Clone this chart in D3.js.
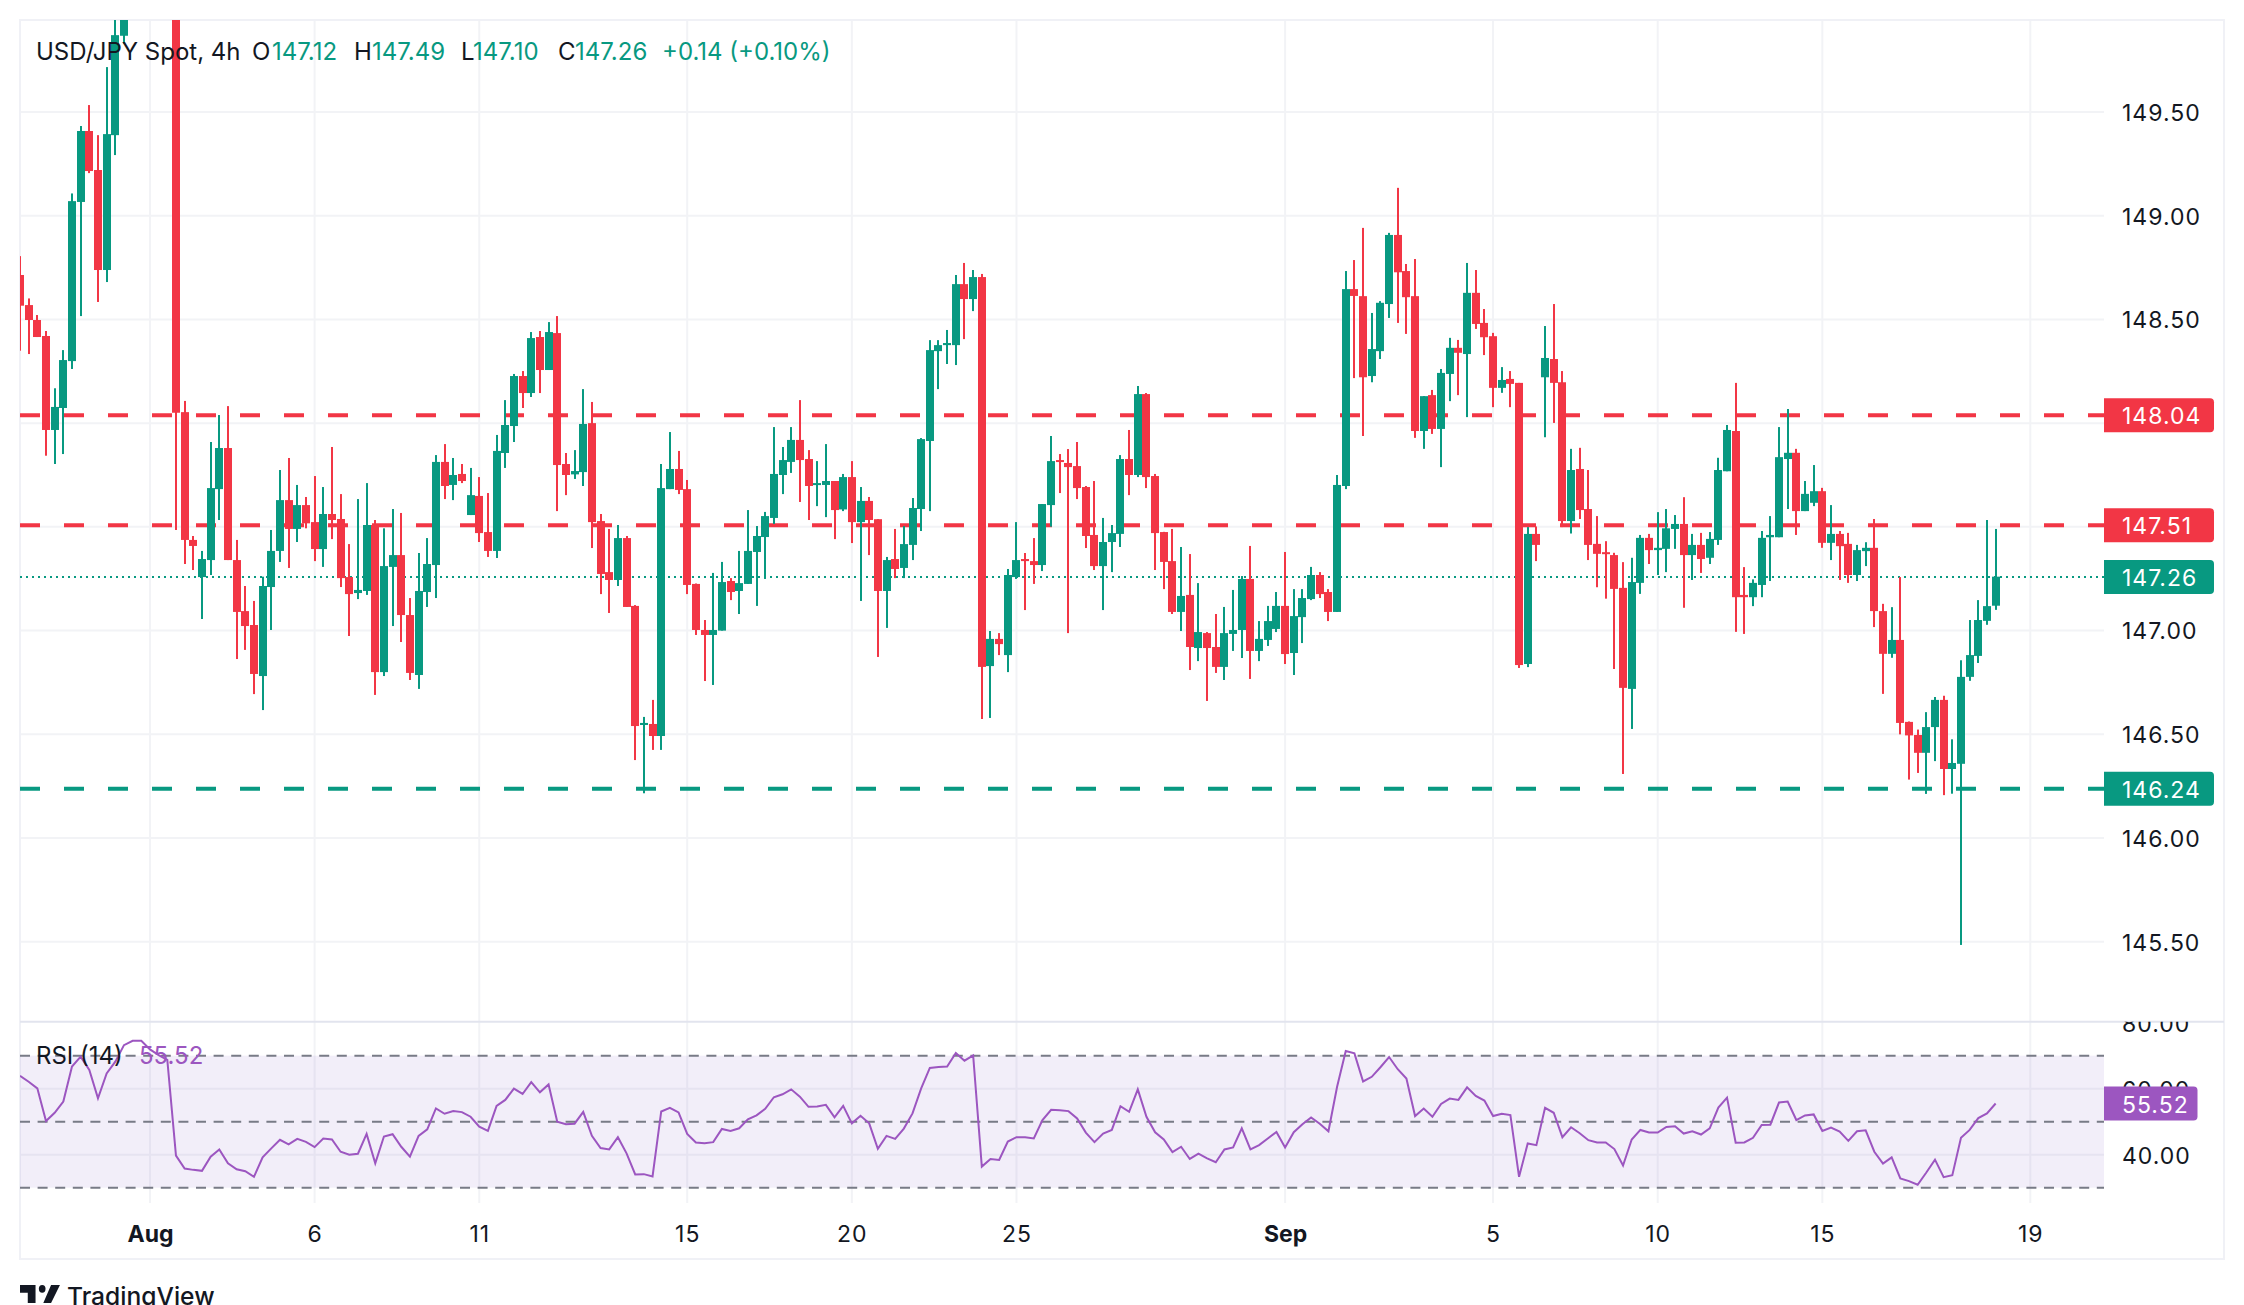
<!DOCTYPE html>
<html>
<head>
<meta charset="utf-8">
<title>USD/JPY Spot, 4h</title>
<script src="https://cdn.jsdelivr.net/npm/d3@7/dist/d3.min.js"></script>
<style>
	html, body { margin: 0; padding: 0; background: #fff; }
	svg { display: block; font-family: Inter, "Noto Sans", sans-serif; }
	.tick line, .domain { display: none; }
</style>
</head>
<body>
<div id="vis"></div>
<script>
'use strict';

var opens = [
	148.714,148.569,148.497,148.42,147.967,148.073,148.299,149.066,149.408,149.22,
	148.738,149.388,149.867,150.25,150.45,150.65,150.7,150.55,150.4,148.053,
	147.437,147.258,147.34,147.682,147.88,147.34,147.094,147.027,146.781,147.21,
	147.384,147.629,147.49,147.605,147.523,147.393,147.562,147.538,147.258,147.181,
	147.191,147.509,146.8,147.307,147.364,147.075,146.786,147.186,147.316,147.813,
	147.702,147.755,147.557,147.649,147.475,147.384,147.856,147.986,148.227,148.145,
	148.415,148.256,148.434,147.803,147.753,147.764,148.0,147.528,147.282,147.244,
	147.446,147.119,146.545,146.55,146.492,147.682,147.779,147.682,147.225,147.003,
	146.979,147.0,147.239,147.191,147.225,147.379,147.451,147.543,147.75,147.813,
	147.919,147.827,147.702,147.702,147.721,147.584,147.74,147.523,147.625,147.537,
	147.191,147.345,147.302,147.413,147.586,147.914,148.347,148.376,148.376,148.67,
	148.598,148.704,146.829,146.96,146.882,147.258,147.345,147.335,147.316,147.605,
	147.822,147.808,147.793,147.692,147.461,147.311,147.427,147.466,147.827,147.75,
	148.14,147.745,147.475,147.335,147.09,147.172,146.916,146.988,146.921,146.825,
	146.984,147.003,147.249,146.902,146.955,147.008,147.119,146.892,147.065,147.152,
	147.268,147.186,147.09,147.697,148.646,148.612,148.227,148.347,148.574,148.907,
	148.733,148.612,147.962,148.135,147.972,148.237,148.363,148.333,148.628,148.483,
	148.419,148.17,148.213,148.194,146.839,147.466,148.221,148.309,148.197,147.528,
	147.779,147.586,147.418,147.378,147.364,147.206,146.719,147.23,147.447,147.388,
	147.394,147.49,147.514,147.364,147.413,147.351,147.437,147.768,147.962,147.172,
	147.161,147.22,147.45,147.45,147.827,147.857,147.576,147.616,147.672,147.423,
	147.466,147.418,147.268,147.383,147.399,147.094,146.888,146.955,146.56,146.497,
	146.411,146.535,146.666,146.333,146.358,146.777,146.878,147.047,147.12
];
var highs = [
	148.805,148.601,148.521,148.444,148.168,148.352,149.107,149.432,149.533,149.388,
	149.716,150.05,150.3,150.55,150.75,150.92,150.8,150.7,150.5,148.107,
	147.456,147.384,147.909,148.039,148.082,147.437,147.215,147.143,147.26,147.485,
	147.774,147.832,147.702,147.644,147.745,147.692,147.885,147.658,147.417,147.634,
	147.711,147.533,147.493,147.586,147.567,147.157,147.374,147.446,147.846,147.899,
	147.832,147.803,147.784,147.74,147.663,147.943,148.111,148.237,148.251,148.439,
	148.444,148.487,148.516,147.856,147.87,148.164,148.102,147.562,147.49,147.509,
	147.456,147.123,146.584,146.666,147.803,147.957,147.866,147.726,147.227,147.051,
	147.278,147.331,147.253,147.384,147.581,147.504,147.572,147.981,147.885,147.981,
	148.111,147.87,147.817,147.899,147.721,147.755,147.817,147.692,147.644,147.537,
	147.355,147.49,147.504,147.639,147.928,148.4,148.4,148.449,148.714,148.772,
	148.738,148.719,146.998,146.988,147.297,147.523,147.374,147.446,147.61,147.938,
	147.851,147.875,147.909,147.697,147.721,147.543,147.509,147.846,147.967,148.179,
	148.145,147.755,147.476,147.49,147.403,147.369,147.229,146.993,147.08,147.114,
	147.196,147.263,147.408,147.046,147.119,147.186,147.379,147.2,147.2,147.307,
	147.282,147.2,147.75,148.733,148.786,148.941,148.531,148.588,148.917,149.134,
	148.767,148.791,148.13,148.16,148.261,148.411,148.401,148.772,148.738,148.55,
	148.435,148.27,148.251,148.194,147.499,147.502,148.468,148.574,148.251,147.876,
	147.881,147.774,147.552,147.431,147.375,147.33,147.351,147.461,147.466,147.571,
	147.586,147.557,147.643,147.466,147.471,147.475,147.833,147.991,148.194,147.306,
	147.247,147.48,147.552,147.981,148.068,147.876,147.721,147.798,147.688,147.605,
	147.48,147.471,147.413,147.426,147.538,147.129,147.113,147.258,146.562,146.523,
	146.607,146.68,146.686,146.476,146.857,147.051,147.147,147.533,147.49
];
var lows = [
	148.349,148.333,148.415,147.843,147.803,147.851,148.261,148.516,149.205,148.584,
	148.68,149.292,149.83,150.15,150.35,150.5,150.4,150.3,147.485,147.321,
	147.292,147.056,147.268,147.533,147.34,146.863,146.907,146.694,146.617,147.003,
	147.331,147.302,147.427,147.493,147.335,147.307,147.441,147.21,146.974,147.152,
	147.172,146.69,146.781,147.022,146.945,146.762,146.719,147.114,147.157,147.634,
	147.629,147.711,147.557,147.427,147.355,147.35,147.784,147.909,148.073,148.126,
	148.145,148.256,147.576,147.653,147.731,147.697,147.398,147.176,147.085,147.215,
	147.114,146.376,146.216,146.425,146.425,147.682,147.658,147.176,146.979,146.757,
	146.738,147.0,147.147,147.08,147.225,147.119,147.249,147.514,147.658,147.76,
	147.62,147.533,147.6,147.547,147.441,147.576,147.422,147.143,147.364,146.873,
	147.013,147.253,147.253,147.34,147.48,147.576,148.164,148.285,148.28,148.405,
	148.54,146.574,146.579,146.882,146.8,147.249,147.099,147.225,147.287,147.501,
	147.663,146.988,147.634,147.398,147.292,147.099,147.282,147.403,147.653,147.74,
	147.687,147.292,147.2,147.08,146.998,146.81,146.853,146.661,146.796,146.762,
	146.902,146.868,146.767,146.853,146.926,146.993,146.839,146.786,146.94,147.147,
	147.157,147.046,147.09,147.682,148.217,147.938,148.197,148.309,148.507,148.483,
	148.43,147.929,147.876,147.948,147.788,148.106,148.135,148.029,148.454,148.328,
	148.077,148.146,148.077,146.82,146.824,147.335,147.932,148.001,147.499,147.468,
	147.538,147.34,147.209,147.154,146.815,146.309,146.526,147.177,147.321,147.268,
	147.282,147.394,147.11,147.244,147.278,147.321,147.413,147.768,146.994,146.984,
	147.118,147.161,147.239,147.45,147.586,147.461,147.576,147.6,147.399,147.34,
	147.244,147.23,147.239,147.311,147.017,146.695,146.869,146.5,146.282,146.314,
	146.213,146.371,146.207,146.214,145.485,146.758,146.844,147.028,147.1
];
var closes = [
	148.566,148.497,148.415,147.967,148.078,148.304,149.07,149.408,149.215,148.738,
	149.393,149.87,150.25,150.45,150.65,150.7,150.55,150.4,148.05,147.437,
	147.408,147.345,147.687,147.88,147.34,147.09,147.022,146.791,147.215,147.384,
	147.629,147.49,147.605,147.517,147.393,147.562,147.533,147.253,147.176,147.196,
	147.509,146.8,147.311,147.364,147.075,146.796,147.191,147.321,147.813,147.697,
	147.75,147.721,147.653,147.47,147.384,147.866,147.991,148.227,148.145,148.41,
	148.256,148.439,147.798,147.75,147.769,147.996,147.523,147.273,147.244,147.446,
	147.114,146.54,146.555,146.492,147.687,147.779,147.678,147.22,147.003,146.979,
	147.003,147.234,147.186,147.229,147.384,147.456,147.552,147.755,147.822,147.919,
	147.822,147.697,147.711,147.721,147.581,147.74,147.523,147.625,147.533,147.191,
	147.34,147.297,147.417,147.591,147.923,148.352,148.376,148.386,148.67,148.598,
	148.704,146.825,146.96,146.935,147.268,147.34,147.335,147.316,147.61,147.817,
	147.813,147.788,147.687,147.456,147.311,147.427,147.47,147.827,147.75,148.14,
	147.74,147.47,147.331,147.09,147.167,146.921,146.993,146.916,146.825,146.988,
	147.003,147.249,146.902,146.96,147.046,147.119,146.887,147.07,147.157,147.268,
	147.176,147.09,147.702,148.646,148.613,148.221,148.357,148.58,148.907,148.727,
	148.607,147.962,148.13,147.972,148.242,148.363,148.339,148.628,148.478,148.414,
	148.17,148.208,148.189,146.834,147.466,147.413,148.314,148.194,147.528,147.774,
	147.581,147.413,147.37,147.37,147.201,146.724,147.234,147.447,147.388,147.399,
	147.493,147.514,147.364,147.413,147.345,147.442,147.774,147.967,147.161,147.161,
	147.23,147.447,147.461,147.836,147.857,147.576,147.659,147.672,147.423,147.466,
	147.407,147.268,147.388,147.399,147.094,146.888,146.955,146.555,146.495,146.411,
	146.535,146.666,146.333,146.362,146.777,146.882,147.051,147.118,147.26
];
var rsiValues = [
	63.9,62.1,60.1,50.2,52.7,56.1,66.7,69.7,65.7,57.1,
	64.6,68.2,73.2,74.5,74.5,71.9,70.2,68.7,39.7,35.8,
	35.4,35.1,39.4,41.6,37.4,35.6,35.0,33.3,39.2,41.9,
	44.5,43.1,44.8,43.9,42.3,44.9,44.6,40.9,40.0,40.3,
	46.3,37.4,45.5,46.2,42.4,39.4,45.7,47.7,54.0,52.4,
	53.2,52.9,51.5,48.5,47.2,54.8,56.6,60.0,58.4,62.0,
	58.9,61.3,50.0,49.2,49.4,53.0,45.7,42.0,41.6,45.3,
	40.4,34.0,34.1,33.4,53.1,54.2,52.8,46.3,43.7,43.5,
	43.8,47.8,47.2,48.0,50.7,51.9,53.9,57.4,58.3,59.8,
	57.6,54.5,54.6,55.1,51.3,54.8,49.5,51.8,49.5,41.8,
	45.7,44.8,47.9,52.5,60.1,66.3,66.6,66.7,70.8,68.5,
	70.1,36.4,38.7,38.4,44.0,45.3,45.3,44.9,50.5,53.6,
	53.5,53.2,51.0,46.7,43.8,46.4,47.5,54.7,53.0,59.8,
	51.5,46.8,44.6,40.8,42.4,38.7,40.3,38.9,37.7,41.6,
	42.2,48.0,41.6,42.9,44.9,46.9,42.2,46.8,49.2,51.3,
	49.4,47.1,60.6,71.4,70.7,62.2,63.6,66.5,69.6,65.9,
	63.1,51.7,54.0,51.5,55.4,57.0,56.6,60.4,57.8,56.4,
	51.7,52.4,52.0,33.3,43.4,42.9,54.2,52.7,45.3,48.3,
	46.5,44.4,43.7,43.7,41.7,36.7,44.6,47.5,46.7,46.7,
	48.4,48.6,46.4,47.1,46.1,48.0,54.3,57.3,43.6,43.7,
	45.1,49.0,49.1,55.8,56.1,50.5,51.9,52.2,47.2,48.2,
	47.0,44.2,47.1,47.4,40.9,37.3,39.2,32.8,32.0,30.9,
	34.6,38.5,33.2,33.8,45.1,47.5,51.1,52.5,55.52
];

var priceTicks = [145.5, 146, 146.5, 147, 147.5, 148, 148.5, 149, 149.5];
//the tags for 147.51 and 148.04 sit on these two, so they get no label
var priceLabels = [145.5, 146, 146.5, 147, 148.5, 149, 149.5];
var rsiTicks = [40, 60, 80];
var rsiGrid = [40, 60];
var rsiBand = [30, 70];
var rsiDashes = [30, 50, 70];
var dateLabels = ['Aug', '6', '11', '15', '20', '25', 'Sep', '5', '10', '15', '19'];
var dateBars = [15, 34, 53, 77, 96, 115, 146, 170, 189, 208, 232];
var boldLabels = ['Aug', 'Sep'];

var resistance = [148.04, 147.51];
var support = [146.24];
var lastPrice = 147.26;
var lastRsi = 55.52;
var legendParts = [
	['USD/JPY Spot, 4h', 36, 'dark'],
	['O', 252, 'dark'], ['147.12', 272, 'up'],
	['H', 354, 'dark'], ['147.49', 372, 'up'],
	['L', 461, 'dark'], ['147.10', 473, 'up'],
	['C', 558, 'dark'], ['147.26', 575, 'up'],
	['+0.14 (+0.10%)', 662, 'up']
];

var UP = '#089981', DOWN = '#f23645', INK = '#131722', PURPLE = '#9c56c0';
var GRID = '#f2f3f6', EDGE = '#f0f1f6';
var FONT = 23;

var width = 2244, height = 1305;
var plotLeft = 20, axisX = 2104, plotRight = 2224, plotTop = 20;
var paneBottom = 1021.7, rsiBottom = 1203, plotBottom = 1259;

var x = d3.scaleLinear().domain([0, 232]).range([20, 2030.3]);
var y = d3.scaleLinear().domain([145.115, 149.943]).range([paneBottom, plotTop]);
var yRsi = d3.scaleLinear().domain([25.36, 80.3]).range([rsiBottom, paneBottom]);

var svg = d3.select('#vis').append('svg').attr('width', width).attr('height', height);

svg.append('clipPath').attr('id', 'clip-main').append('rect')
	.attr('x', plotLeft).attr('y', plotTop).attr('width', axisX - plotLeft).attr('height', paneBottom - plotTop);
svg.append('clipPath').attr('id', 'clip-rsi').append('rect')
	.attr('x', plotLeft).attr('y', paneBottom).attr('width', axisX - plotLeft).attr('height', rsiBottom - paneBottom);
svg.append('clipPath').attr('id', 'clip-rsi-axis').append('rect')
	.attr('x', axisX).attr('y', paneBottom).attr('width', plotRight - axisX).attr('height', rsiBottom - paneBottom);

//grid
svg.append('g').selectAll('line').data(dateBars).enter().append('line')
	.attr('x1', function (d) { return x(d); })
	.attr('x2', function (d) { return x(d); })
	.attr('y1', plotTop).attr('y2', rsiBottom)
	.attr('stroke', GRID).attr('stroke-width', 2);
svg.append('g').selectAll('line').data(priceTicks).enter().append('line')
	.attr('x1', plotLeft).attr('x2', axisX)
	.attr('y1', function (d) { return y(d); })
	.attr('y2', function (d) { return y(d); })
	.attr('stroke', GRID).attr('stroke-width', 2);
svg.append('g').selectAll('line').data(rsiGrid).enter().append('line')
	.attr('x1', plotLeft).attr('x2', axisX)
	.attr('y1', function (d) { return yRsi(d); })
	.attr('y2', function (d) { return yRsi(d); })
	.attr('stroke', GRID).attr('stroke-width', 2);

//frame
svg.append('rect')
	.attr('x', plotLeft).attr('y', plotTop).attr('width', plotRight - plotLeft).attr('height', plotBottom - plotTop)
	.attr('fill', 'none').attr('stroke', EDGE).attr('stroke-width', 2);
svg.append('line')
	.attr('x1', plotLeft).attr('x2', plotRight).attr('y1', paneBottom).attr('y2', paneBottom)
	.attr('stroke', '#e2e4ee').attr('stroke-width', 2);

//price lines, under the candles
var main = svg.append('g').attr('clip-path', 'url(#clip-main)');
function priceLine(price, colour, w, dash) {
	main.append('line')
		.attr('x1', plotLeft).attr('x2', axisX)
		.attr('y1', y(price) + 0.4).attr('y2', y(price) + 0.4)
		.attr('stroke', colour).attr('stroke-width', w).attr('stroke-dasharray', dash);
}
resistance.forEach(function (d) { priceLine(d, DOWN, 4, '20 24'); });
support.forEach(function (d) { priceLine(d, UP, 4, '20 24'); });
priceLine(lastPrice, UP, 2, '2 4');

//candles
var candles = d3.range(opens.length);
function candleColour(i) { return closes[i] >= opens[i] ? UP : DOWN; }

main.append('g').selectAll('rect').data(candles).enter().append('rect')
	.attr('x', function (i) { return Math.round(x(i)) - 1; })
	.attr('width', 2)
	.attr('y', function (i) { return y(highs[i]); })
	.attr('height', function (i) { return y(lows[i]) - y(highs[i]); })
	.attr('fill', candleColour);

main.append('g').selectAll('rect').data(candles).enter().append('rect')
	.attr('x', function (i) { return Math.round(x(i)) - 4; })
	.attr('width', 8)
	.attr('y', function (i) { return y(Math.max(opens[i], closes[i])); })
	.attr('height', function (i) { return Math.max(2, Math.abs(y(opens[i]) - y(closes[i]))); })
	.attr('fill', candleColour);

//rsi pane
svg.append('rect')
	.attr('x', plotLeft).attr('width', axisX - plotLeft)
	.attr('y', yRsi(rsiBand[1])).attr('height', yRsi(rsiBand[0]) - yRsi(rsiBand[1]))
	.attr('fill', '#7e57c2').attr('fill-opacity', 0.1);
svg.append('g').selectAll('line').data(rsiDashes).enter().append('line')
	.attr('x1', plotLeft).attr('x2', axisX)
	.attr('y1', function (d) { return yRsi(d); })
	.attr('y2', function (d) { return yRsi(d); })
	.attr('stroke', '#787b86').attr('stroke-width', 2).attr('stroke-dasharray', '10 7.6');

var rsiLine = d3.line()
	.x(function (d, i) { return x(i); })
	.y(function (d) { return yRsi(d); });
svg.append('g').attr('clip-path', 'url(#clip-rsi)').append('path')
	.datum(rsiValues)
	.attr('d', rsiLine)
	.attr('fill', 'none')
	.attr('stroke', PURPLE).attr('stroke-width', 2);

//axes
var priceAxis = d3.axisRight(y).tickValues(priceLabels).tickFormat(d3.format('.2f')).tickSize(0).tickPadding(18);
svg.append('g').attr('transform', 'translate(' + axisX + ',1)').call(priceAxis)
	.selectAll('text')
	.attr('font-size', FONT).attr('font-family', 'Inter').attr('fill', INK).attr('letter-spacing', 1);

var rsiAxis = d3.axisRight(yRsi).tickValues(rsiTicks).tickFormat(d3.format('.2f')).tickSize(0).tickPadding(18);
svg.append('g').attr('clip-path', 'url(#clip-rsi-axis)')
	.append('g').attr('transform', 'translate(' + axisX + ',1)').call(rsiAxis)
	.selectAll('text')
	.attr('font-size', FONT).attr('font-family', 'Inter').attr('fill', INK).attr('letter-spacing', 1);

var dateAxis = d3.axisBottom(x).tickValues(dateBars)
	.tickFormat(function (d, i) { return dateLabels[i]; }).tickSize(0).tickPadding(0);
svg.append('g').attr('transform', 'translate(0,' + (rsiBottom + 23) + ')').call(dateAxis)
	.selectAll('text')
	.attr('font-size', FONT).attr('font-family', 'Inter').attr('fill', INK)
	.attr('letter-spacing', function (d, i) { return boldLabels.indexOf(dateLabels[i]) >= 0 ? 0 : 1; })
	.attr('font-weight', function (d, i) { return boldLabels.indexOf(dateLabels[i]) >= 0 ? 700 : 400; });

//price tags
function tag(yPos, label, colour, tagW) {
	var h = 34, r = 4;
	svg.append('path')
		.attr('d', 'M' + axisX + ',' + (yPos - h / 2) + 'h' + (tagW - r) + 'a' + r + ',' + r + ' 0 0 1 ' + r + ',' + r +
			'v' + (h - 2 * r) + 'a' + r + ',' + r + ' 0 0 1 ' + (-r) + ',' + r + 'h' + (r - tagW) + 'z')
		.attr('fill', colour);
	svg.append('text')
		.attr('x', axisX + 18).attr('y', yPos + 1).attr('dy', '0.35em')
		.attr('font-size', FONT).attr('font-family', 'Inter').attr('fill', '#fff').attr('letter-spacing', 1)
		.text(label);
}
resistance.forEach(function (d) { tag(y(d) + 0.4, d.toFixed(2), DOWN, 110); });
support.forEach(function (d) { tag(y(d) + 0.4, d.toFixed(2), UP, 110); });
tag(y(lastPrice) + 0.4, lastPrice.toFixed(2), UP, 110);
tag(yRsi(lastRsi), lastRsi.toFixed(2), PURPLE, 93.5);

//legends
svg.append('g').selectAll('text').data(legendParts).enter().append('text')
	.attr('x', function (d) { return d[1]; })
	.attr('y', 60)
	.attr('font-size', 24).attr('font-family', 'Inter')
	.attr('fill', function (d) { return d[2] === 'up' ? UP : INK; })
	.text(function (d) { return d[0]; });
svg.append('text')
	.attr('x', 36).attr('y', 1064)
	.attr('font-size', 24).attr('font-family', 'Inter').attr('fill', INK)
	.text('RSI (14)');
svg.append('text')
	.attr('x', 139).attr('y', 1064)
	.attr('font-size', 24).attr('font-family', 'Inter').attr('fill', PURPLE)
	.text(lastRsi.toFixed(2));

//logo
var logo = svg.append('g').attr('transform', 'translate(20,1285) scale(1.11,1.29)').attr('fill', '#131722');
logo.append('path').attr('d', 'M14 0H0v6h7v8h7V0ZM28 14h-7l7-14h8l-8 14Z');
logo.append('circle').attr('cx', 20).attr('cy', 3).attr('r', 3);
svg.append('text')
	.attr('x', 67).attr('y', 1305)
	.attr('font-size', 24.6).attr('font-family', 'Inter').attr('font-weight', 500).attr('fill', INK)
	.text('TradingView');
</script>
</body>
</html>
